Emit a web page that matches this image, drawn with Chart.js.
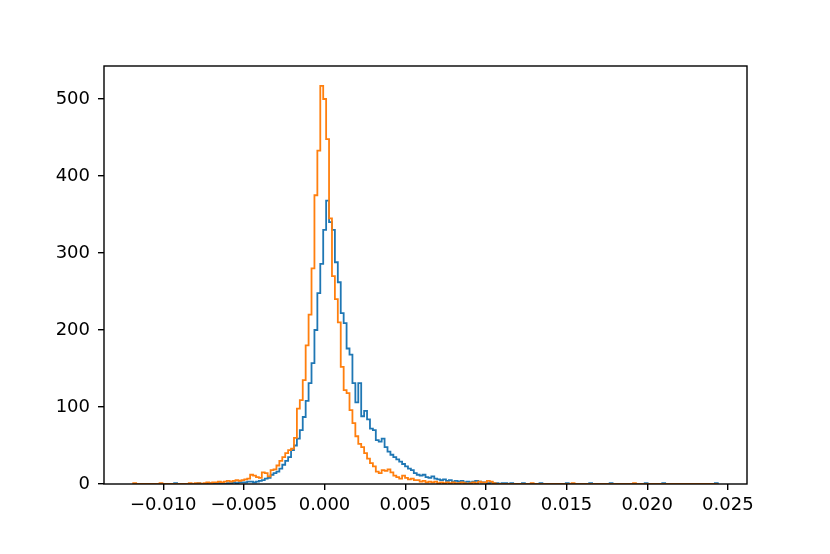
<!DOCTYPE html>
<html>
<head>
<meta charset="utf-8">
<script src="https://cdn.jsdelivr.net/npm/chart.js@4.4.0/dist/chart.umd.min.js"></script>
<style>
    html, body { margin: 0; padding: 0; background: #fff; }
    #wrap { width: 830px; height: 554px; }
</style>
</head>
<body>
<div id="wrap"><canvas id="histChart" width="830" height="554"></canvas></div>
<script>
// shared bin edges of the two histograms (200 bins)
const binStart = -0.01186;
const binWidth = 0.00018117;

// counts per bin
const blueCounts = [
    0, 0, 0, 0, 0, 0, 0, 0, 0, 0,
    0, 0, 0, 0, 1, 0, 0, 0, 0, 0,
    0, 0, 1, 0, 0, 0, 1, 0, 0, 1,
    1, 0, 1, 1, 2, 1, 2, 2, 2, 3,
    3, 2, 3, 4, 5, 7, 8, 12, 14, 16,
    20, 25, 30, 35, 44, 50, 59, 70, 87, 108,
    131, 157, 200, 248, 286, 330, 368, 340, 330, 288,
    262, 222, 209, 176, 168, 131, 106, 131, 88, 95,
    84, 72, 70, 57, 55, 59, 48, 42, 38, 35,
    32, 29, 26, 23, 20, 18, 14, 12, 11, 12,
    9, 8, 10, 7, 6, 5, 6, 4, 5, 3,
    4, 3, 4, 2, 3, 2, 3, 4, 3, 2,
    2, 1, 2, 1, 1, 0, 1, 1, 0, 1,
    0, 0, 0, 1, 0, 0, 0, 0, 0, 1,
    0, 0, 0, 0, 0, 0, 0, 0, 1, 0,
    0, 0, 0, 0, 0, 0, 1, 0, 0, 0,
    0, 0, 0, 1, 0, 0, 0, 0, 0, 0,
    0, 0, 0, 0, 0, 1, 0, 0, 0, 0,
    0, 1, 0, 0, 0, 0, 0, 0, 0, 0,
    0, 0, 0, 0, 0, 0, 0, 0, 0, 1
];

const orangeCounts = [
    1, 0, 0, 0, 0, 0, 0, 0, 0, 1,
    0, 0, 0, 0, 0, 0, 0, 0, 0, 1,
    0, 1, 1, 0, 1, 2, 1, 2, 2, 3,
    2, 3, 4, 3, 4, 5, 4, 5, 6, 7,
    12, 11, 9, 8, 15, 14, 10, 18, 19, 24,
    30, 35, 40, 44, 46, 60, 98, 109, 135, 180,
    220, 280, 375, 433, 517, 500, 448, 345, 270, 240,
    210, 152, 122, 118, 96, 79, 62, 52, 48, 40,
    33, 27, 23, 16, 14, 18, 17, 19, 15, 11,
    9, 7, 11, 8, 6, 7, 5, 5, 3, 4,
    2, 3, 2, 3, 1, 2, 1, 2, 1, 2,
    1, 1, 2, 1, 0, 1, 2, 1, 3, 2,
    2, 4, 3, 1, 0, 0, 0, 0, 0, 0,
    0, 0, 0, 0, 0, 0, 1, 0, 0, 0,
    0, 0, 0, 0, 0, 0, 0, 0, 0, 0,
    1, 0, 0, 0, 0, 0, 0, 0, 0, 0,
    0, 0, 0, 0, 0, 0, 0, 0, 0, 0,
    0, 1, 0, 0, 0, 0, 0, 0, 0, 0,
    0, 0, 0, 0, 0, 0, 0, 0, 0, 0,
    0, 0, 0, 0, 0, 0, 0, 0, 0, 0
];

const xTicks = [-0.010, -0.005, 0.000, 0.005, 0.010, 0.015, 0.020, 0.025];
const yTicks = [0, 100, 200, 300, 400, 500];

// step outline: start on the baseline, one point per left edge, back to the baseline
function stepPoints(counts) {
    const pts = [{ x: binStart, y: 0 }];
    counts.forEach((c, i) => pts.push({ x: binStart + i * binWidth, y: c }));
    pts.push({ x: binStart + counts.length * binWidth, y: 0 });
    return pts;
}

const span = blueCounts.length * binWidth;
const xMin = binStart - 0.05 * span;
const xMax = binStart + span + 0.05 * span;
const yMax = Math.max(...blueCounts, ...orangeCounts) * 1.05;

const tickFont = { family: 'DejaVu Sans', size: 18 };

// axes box drawn over the lines, like the spines
const framePlugin = {
    id: 'frame',
    afterDatasetsDraw(chart) {
        const { ctx, chartArea: a } = chart;
        ctx.save();
        ctx.strokeStyle = '#000';
        ctx.lineWidth = 1.4;
        ctx.strokeRect(a.left, a.top, a.right - a.left, a.bottom - a.top);
        ctx.restore();
    }
};

new Chart(document.getElementById('histChart').getContext('2d'), {
    type: 'line',
    data: {
        datasets: [{
            label: 'a',
            data: stepPoints(blueCounts),
            borderColor: '#1f77b4',
            borderWidth: 1.8,
            stepped: 'before',
            pointRadius: 0,
            fill: false,
            order: 1
        }, {
            label: 'b',
            data: stepPoints(orangeCounts),
            borderColor: '#ff7f0e',
            borderWidth: 1.8,
            stepped: 'before',
            pointRadius: 0,
            fill: false,
            order: 0
        }]
    },
    options: {
        responsive: false,
        animation: false,
        devicePixelRatio: 1,
        layout: { padding: { top: 66, right: 83, left: 0, bottom: 0 } },
        plugins: { legend: { display: false }, tooltip: { enabled: false } },
        scales: {
            x: {
                type: 'linear',
                min: xMin,
                max: xMax,
                afterBuildTicks: s => { s.ticks = xTicks.map(v => ({ value: v })); },
                afterFit: s => { s.height = 70; },
                grid: { drawOnChartArea: false, drawTicks: true, tickLength: 6, color: '#000', lineWidth: 1.4 },
                border: { display: false },
                ticks: {
                    padding: 5,
                    color: '#000',
                    font: tickFont,
                    maxRotation: 0,
                    autoSkip: false,
                    callback: v => (v < -1e-9 ? '\u2212' : '') + Math.abs(v).toFixed(3)
                }
            },
            y: {
                min: 0,
                max: yMax,
                afterBuildTicks: s => { s.ticks = yTicks.map(v => ({ value: v })); },
                afterFit: s => { s.width = 104; },
                grid: { drawOnChartArea: false, drawTicks: true, tickLength: 6, color: '#000', lineWidth: 1.4 },
                border: { display: false },
                ticks: {
                    padding: 8,
                    color: '#000',
                    font: tickFont,
                    callback: v => String(v)
                }
            }
        }
    },
    plugins: [framePlugin]
});
</script>
</body>
</html>
